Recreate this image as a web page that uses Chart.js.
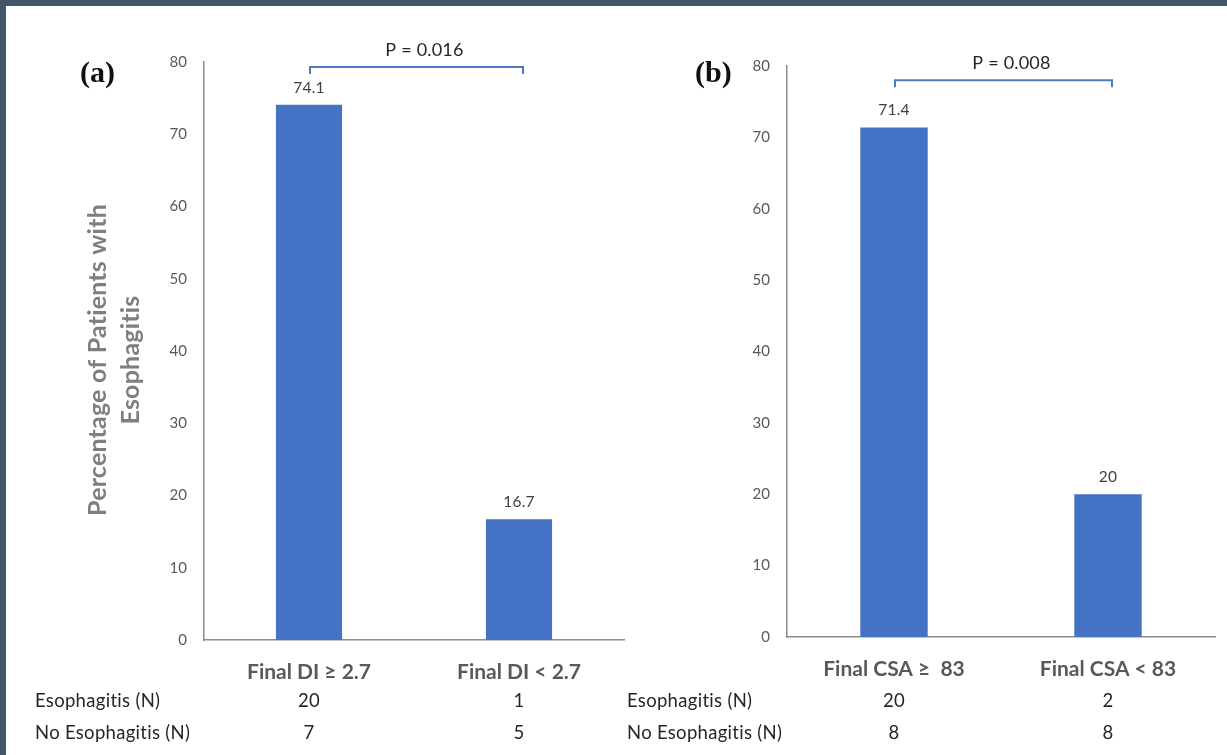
<!DOCTYPE html>
<html>
<head>
<meta charset="utf-8">
<script src="https://cdn.jsdelivr.net/npm/chart.js@4.4.1/dist/chart.umd.min.js"></script>
<style>
  html,body{margin:0;padding:0;background:#44546a;}
  #page{position:absolute;left:6px;top:6px;width:1221px;height:749px;background:#fff;}
  canvas{position:absolute;top:0;}
  #ca{left:0;}
  #cb{left:600px;}
</style>
</head>
<body>
<div id="page"></div>
<canvas id="ca" width="625" height="755"></canvas>
<canvas id="cb" width="627" height="755"></canvas>
<script>
const catsA=['Final DI ≥ 2.7','Final DI < 2.7'];
const pctA=[74.1,16.7];
const esoA=[20,1];
const noEsoA=[7,5];

const catsB=['Final CSA ≥  83','Final CSA < 83'];
const pctB=[71.4,20];
const esoB=[20,2];
const noEsoB=[8,8];

const rowLabels=['Esophagitis (N)','No Esophagitis (N)'];
const pLabels=['P = 0.016','P = 0.008'];
const panelLabels=['(a)','(b)'];
const yTitle=['Percentage of Patients with','Esophagitis'];

const FONT='Lato, "Open Sans", sans-serif';
const BLUE='#4472c4';

function extras(o){
  return {
    id:'extras',
    afterDraw(chart){
      const c=chart.ctx, x=chart.scales.x, y=chart.scales.y;
      const bars=chart.getDatasetMeta(0).data;
      c.save();
      c.letterSpacing='0.2px';
      // value labels
      c.fillStyle='#404040';c.font='15.5px '+FONT;c.textAlign='center';c.textBaseline='middle';
      bars.forEach((b,i)=>c.fillText(String(o.values[i]),b.x,b.y-17));
      // bracket
      const by=y.getPixelForValue(o.bracketAt);
      const x0=bars[0].x+1, x1=bars[1].x+4;
      c.strokeStyle='#4f79c2';c.lineWidth=2;
      c.beginPath();c.moveTo(x0,by+7);c.lineTo(x0,by);c.lineTo(x1,by);c.lineTo(x1,by+7);c.stroke();
      c.fillStyle='#262626';c.font='18px '+FONT;
      c.fillText(o.p,(x0+x1)/2+8,by-17);
      // panel label
      c.letterSpacing='0px';
      c.fillStyle='#111';c.font='bold 30px "Liberation Serif", serif';c.textAlign='left';
      c.fillText(o.panel,o.panelX,74);
      c.letterSpacing='0.3px';
      // table
      c.fillStyle='#262626';c.font='18.5px '+FONT;
      [o.eso,o.noEso].forEach((row,r)=>{
        const ty=701+r*32;
        c.textAlign='left';c.fillText(rowLabels[r],o.rowX,ty);
        c.textAlign='center';
        row.forEach((v,i)=>c.fillText(String(v),x.getPixelForValue(i),ty));
      });
      // y title
      if(o.title){
        c.letterSpacing='0.2px';
        c.fillStyle='#7f7f7f';c.font='bold 25px '+FONT;c.textAlign='center';
        c.translate(114,360);c.rotate(-Math.PI/2);
        c.fillText(yTitle[0],0,-16);
        c.fillText(yTitle[1],0,17);
      }
      c.restore();
    }
  };
}

function makeChart(id,o){
  return new Chart(document.getElementById(id),{
    type:'bar',
    data:{labels:o.cats,datasets:[{data:o.values,backgroundColor:BLUE,categoryPercentage:1,barPercentage:0.315}]},
    options:{
      responsive:false,animation:false,
      layout:{padding:{top:o.top,right:o.right,left:0,bottom:0}},
      plugins:{legend:{display:false},tooltip:{enabled:false}},
      scales:{
        x:{
          grid:{display:false,drawTicks:false},
          border:{color:'#8c8c8c',width:1.5},
          ticks:{color:'#595959',font:{family:FONT,size:21,weight:'bold'},padding:20},
          afterFit(s){s.height=755-o.bottom;}
        },
        y:{
          min:0,max:80,
          grid:{display:false,drawTicks:false},
          border:{color:'#8c8c8c',width:1.5},
          ticks:{stepSize:10,color:'#595959',font:{family:FONT,size:15},padding:17},
          afterFit(s){s.width=o.left;}
        }
      }
    },
    plugins:[extras(o)]
  });
}

makeChart('ca',{cats:catsA,values:pctA,eso:esoA,noEso:noEsoA,p:pLabels[0],panel:panelLabels[0],
  top:62,bottom:640,left:204,right:1,bracketAt:79.3,panelX:80,rowX:35,title:true});
makeChart('cb',{cats:catsB,values:pctB,eso:esoB,noEso:noEsoB,p:pLabels[1],panel:panelLabels[1],
  top:66,bottom:637,left:187,right:12,bracketAt:78,panelX:95,rowX:27,title:false});
</script>
</body>
</html>
